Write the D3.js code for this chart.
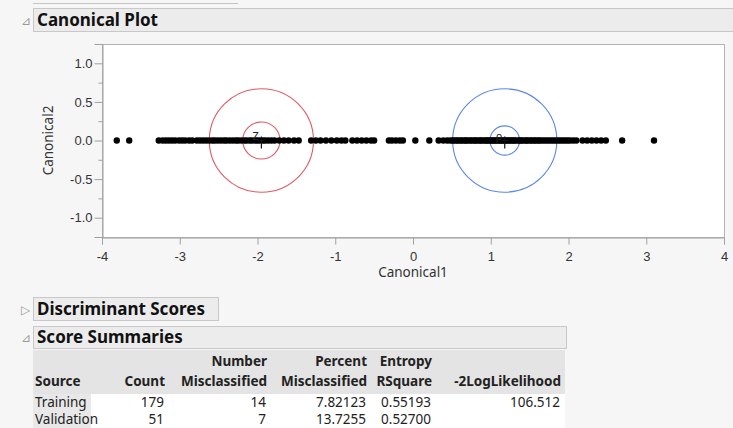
<!DOCTYPE html>
<html>
<head>
<meta charset="utf-8">
<script src="https://cdn.jsdelivr.net/npm/d3@7"></script>
<style>
    body { margin: 0; background: #f6f6f6; font-family: "Noto Sans", "Open Sans", sans-serif; }
    .tick text { font-size: 13px; fill: #333; }
    .hdr { font-weight: bold; font-size: 17px; fill: #111; }
    .cell { font-size: 13.5px; fill: #222; }
    .cellBold { font-size: 13.5px; font-weight: bold; fill: #222; }
</style>
</head>
<body>
<script>
(function () {

    //axis ticks
    var xTicks = [-4, -3, -2, -1, 0, 1, 2, 3, 4];
    var yTicks = [-1.0, -0.5, 0.0, 0.5, 1.0];
    var yMinorTicks = [-1.25, -0.75, -0.25, 0.25, 0.75, 1.25];

    //canonical scores, group 1 (red) and group 2 (blue)
    var group1Scores = [-3.81, -3.65,
        -3.27, -3.22, -3.18, -3.14, -3.10, -3.06, -3.01, -2.97, -2.93, -2.88,
        -2.84, -2.78, -2.74, -2.70, -2.66, -2.62, -2.58, -2.55, -2.51, -2.47,
        -2.43, -2.40, -2.36, -2.32, -2.28, -2.25, -2.21, -2.17, -2.14, -2.10,
        -2.07, -2.03, -2.00, -1.97, -1.93, -1.90, -1.86, -1.82, -1.78, -1.72,
        -1.66, -1.60, -1.53, -1.47,
        -1.31, -1.25, -1.19, -1.12, -1.05, -0.98, -0.92, -0.87,
        -0.78, -0.72, -0.66, -0.60, -0.54, -0.50];
    var group2Scores = [-0.31, -0.27, -0.22, -0.17, -0.13, 0.03, 0.21,
        0.33, 0.39, 0.44, 0.48, 0.51, 0.53, 0.56, 0.58, 0.61, 0.63, 0.66, 0.68,
        0.70, 0.73, 0.75, 0.78, 0.80, 0.82, 0.85, 0.87, 0.89, 0.92, 0.94, 0.96,
        0.98, 1.00, 1.02, 1.04, 1.06, 1.08, 1.10, 1.12, 1.14, 1.16, 1.18, 1.20,
        1.22, 1.24, 1.26, 1.28, 1.30, 1.32, 1.35, 1.37, 1.39, 1.41, 1.44, 1.46,
        1.48, 1.51, 1.53, 1.56, 1.58, 1.61, 1.63, 1.66, 1.69, 1.72, 1.75, 1.78,
        1.81, 1.84, 1.87, 1.90, 1.93, 1.96, 1.99, 2.02, 2.06, 2.10,
        2.18, 2.24, 2.30, 2.36, 2.42, 2.48, 2.69, 3.10];

    //group means and circle radii (canonical units)
    var groupMeans = [-1.95, 1.18];
    var groupLabels = ["Z", "ρ"];
    var outerRadii = [0.67, 0.67];
    var innerRadii = [0.24, 0.19];
    var groupColors = ["#df5a66", "#5b88e6"];

    //score summaries table
    var headerTop = ["", "", "Number", "Percent", "Entropy", ""];
    var headerBottom = ["Source", "Count", "Misclassified", "Misclassified", "RSquare", "-2LogLikelihood"];
    var rowSource = ["Training", "Validation"];
    var rowValues = [
        ["179", "14", "7.82123", "0.55193", "106.512"],
        ["51", "7", "13.7255", "0.52700", ""]
    ];

    var svg = d3.select("body")
        .append("svg")
        .attr("width", 733)
        .attr("height", 428);

    //previous section edge
    svg.append("line")
        .attr("x1", 33).attr("x2", 238).attr("y1", 3.5).attr("y2", 3.5)
        .attr("stroke", "#c4c4c4");

    //section header boxes
    function header(x, y, w, h, label, open) {
        svg.append("rect")
            .attr("x", x + 0.5).attr("y", y + 0.5)
            .attr("width", w).attr("height", h)
            .attr("fill", "#ececec")
            .attr("stroke", "#c8c8c8");
        svg.append("text")
            .attr("x", x - 12).attr("y", y + h / 2 + 5)
            .attr("font-size", 12)
            .attr("fill", "#9a9a9a")
            .text(open ? "⊿" : "▷");
        svg.append("text")
            .attr("class", "hdr")
            .attr("x", x + 4).attr("y", y + h / 2 + 6)
            .text(label);
    };
    header(33, 8, 700, 23, "Canonical Plot", true);
    header(33, 297, 185, 23, "Discriminant Scores", false);
    header(33, 326, 533, 22, "Score Summaries", true);

    //plot frame
    var left = 102, right = 724, top = 44, bottom = 237;

    var x = d3.scaleLinear().domain([-4, 4]).range([left, right]);
    var y = d3.scaleLinear().domain([-1.25, 1.25]).range([bottom, top]);

    svg.append("rect")
        .attr("x", left + 0.5).attr("y", top + 0.5)
        .attr("width", right - left).attr("height", bottom - top)
        .attr("fill", "#fff")
        .attr("stroke", "#b4b4b4");

    //axes (plain hyphen for negatives, as in the report)
    var xAxis = d3.axisBottom(x).tickValues(xTicks).tickSize(7)
        .tickFormat(function (d) { return String(d); });
    svg.append("g")
        .attr("transform", "translate(0," + (bottom + 0.5) + ")")
        .call(xAxis)
        .call(function (g) {
            g.select(".domain").attr("stroke", "#a0a0a0");
            g.selectAll(".tick line").attr("stroke", "#a0a0a0");
            g.selectAll(".tick text").attr("dy", "1.0em");
        });

    var yAxis = d3.axisLeft(y).tickValues(yTicks).tickSize(8)
        .tickFormat(function (d) { return d.toFixed(1); });
    svg.append("g")
        .attr("transform", "translate(" + (left + 0.5) + ",0)")
        .call(yAxis)
        .call(function (g) {
            g.select(".domain").attr("stroke", "#a0a0a0");
            g.selectAll(".tick line").attr("stroke", "#a0a0a0");
            g.selectAll(".tick text").attr("x", -10);
        });

    svg.append("g")
        .attr("transform", "translate(" + (left + 0.5) + ",0)")
        .call(d3.axisLeft(y).tickValues(yMinorTicks).tickSize(4).tickFormat(""))
        .call(function (g) {
            g.select(".domain").remove();
            g.selectAll(".tick line").attr("stroke", "#a0a0a0");
        });

    //axis titles
    svg.append("text")
        .attr("x", (left + right) / 2).attr("y", 277)
        .attr("text-anchor", "middle")
        .attr("font-size", 13.5).attr("fill", "#333")
        .text("Canonical1");
    svg.append("text")
        .attr("transform", "translate(53," + y(0) + ") rotate(-90)")
        .attr("text-anchor", "middle")
        .attr("font-size", 13.5).attr("fill", "#333")
        .text("Canonical2");

    //circles round the group means
    groupMeans.forEach(function (m, i) {
        [outerRadii[i], innerRadii[i]].forEach(function (r) {
            svg.append("ellipse")
                .attr("cx", x(m)).attr("cy", y(0))
                .attr("rx", x(r) - x(0)).attr("ry", y(0) - y(r))
                .attr("fill", "none")
                .attr("stroke", groupColors[i])
                .attr("stroke-width", 1.1);
        });
    });

    //score points
    var allScores = group1Scores.concat(group2Scores);
    svg.selectAll(".score")
        .data(allScores)
        .enter()
        .append("circle")
        .attr("class", "score")
        .attr("cx", function (d) { return x(d); })
        .attr("cy", y(0))
        .attr("r", 3.2)
        .attr("fill", "#000");

    //mean markers and labels
    groupMeans.forEach(function (m, i) {
        var cx = x(m), cy = y(0);
        svg.append("path")
            .attr("d", "M" + (cx - 4) + "," + cy + "H" + (cx + 4) + "M" + cx + "," + (cy - 4) + "V" + (cy + 8))
            .attr("stroke", "#111").attr("stroke-width", 1.2);
        svg.append("text")
            .attr("x", cx - 9).attr("y", cy - 1)
            .attr("font-size", 11).attr("fill", "#222")
            .text(groupLabels[i]);
    });

    //score summaries table
    var colRight = [null, 165, 267, 367, 432, 561];
    svg.append("rect")
        .attr("x", 33).attr("y", 350).attr("width", 532).attr("height", 44)
        .attr("fill", "#e4e4e4");
    svg.append("rect")
        .attr("x", 33).attr("y", 394).attr("width", 532).attr("height", 36)
        .attr("fill", "#ffffff");
    svg.append("rect")
        .attr("x", 33).attr("y", 394).attr("width", 58).attr("height", 36)
        .attr("fill", "#e8e8e8");

    headerTop.forEach(function (h, i) {
        if (!h) return;
        svg.append("text").attr("class", "cellBold")
            .attr("x", colRight[i]).attr("y", 366)
            .attr("text-anchor", "end").text(h);
    });
    headerBottom.forEach(function (h, i) {
        svg.append("text").attr("class", "cellBold")
            .attr("x", i === 0 ? 35 : colRight[i]).attr("y", 386)
            .attr("text-anchor", i === 0 ? "start" : "end").text(h);
    });
    rowSource.forEach(function (s, r) {
        var yy = 407 + r * 17;
        svg.append("text").attr("class", "cell")
            .attr("x", 35).attr("y", yy).text(s);
        rowValues[r].forEach(function (v, c) {
            svg.append("text").attr("class", "cell")
                .attr("x", colRight[c + 1] - 1).attr("y", yy)
                .attr("text-anchor", "end").text(v);
        });
    });
})();
</script>
</body>
</html>
